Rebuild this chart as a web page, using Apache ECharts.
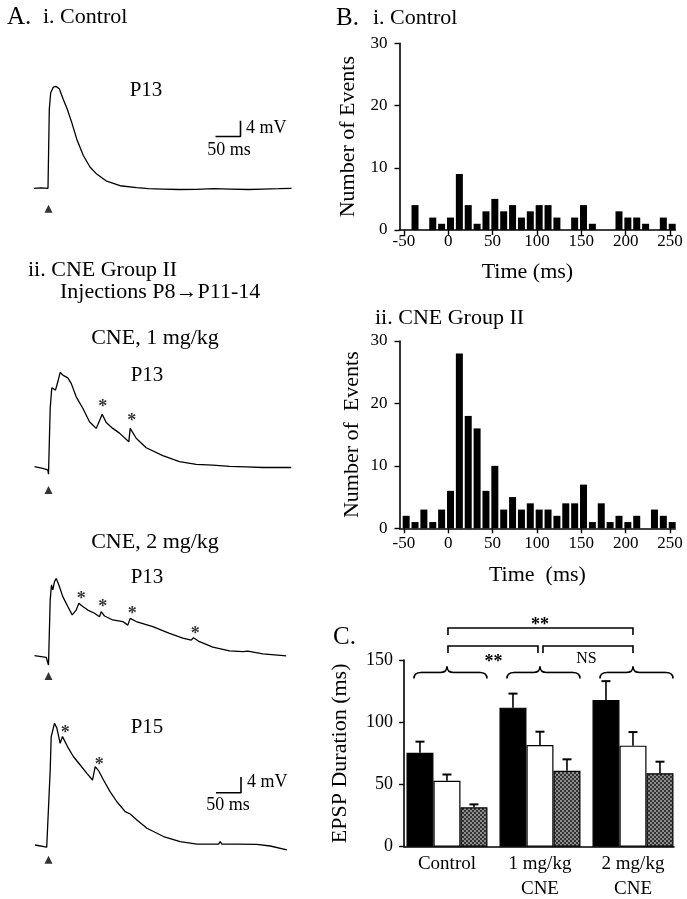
<!DOCTYPE html>
<html><head><meta charset="utf-8">
<script src="https://cdn.jsdelivr.net/npm/echarts@6/dist/echarts.min.js"></script>
<style>html,body{margin:0;padding:0;background:#fff}#c{width:687px;height:899px}</style>
</head><body><div id="c"></div>
<script>
// ---------- DATA ----------
// Panel A traces: [time (ms) from stimulus, potential (mV) above baseline]
const traceControlP13 = [[-29,0],[-15,0.1],[-1,0],[1.6,20],[4.4,24.2],[9.6,25.6],[15,25.8],[21.6,25.2],[29.6,22.5],[37.6,20],[46.4,16.7],[56.4,12.5],[69.6,8.3],[83,5.4],[96.4,3.6],[116.4,1.8],[143,0.65],[176.4,0.15],[200,-0.1],[229.6,-0.2],[260,-0.3],[296,-0.25],[330,-0.1],[363,-0.2],[400,-0.3],[429.6,-0.2],[460,-0.1],[486,0]];
const trace1mgP13 = [[-28,0.4],[-11.4,0],[-1.4,-0.4],[0,-1.5],[3.4,15.2],[6.6,20.4],[9.9,20.7],[14,19.8],[18.6,21.9],[23.4,24.3],[28.6,23.6],[38.6,22.9],[45.4,21.5],[55.4,18.1],[68.6,15.2],[82,11.8],[95.4,10.1],[98.6,11],[107.4,13.7],[115.4,11.6],[128.6,10.1],[142,8.9],[160.6,6.7],[163.4,10.1],[175.4,7.6],[195.4,5.2],[228.6,3.2],[262,1.7],[295.4,1.0],[328.6,0.8],[362,0.5],[395.4,0.35],[428.6,0.2],[485.4,0.2]];
const trace2mgP13 = [[-28,0.25],[-4.6,-0.15],[0,-2.1],[3.4,14.4],[6,18.2],[8.6,16.9],[12,19],[15.4,19.8],[20.6,18.2],[28.6,15.2],[38.6,12.7],[47.4,10.6],[55.4,11.8],[60.6,13.5],[68.6,12.7],[78.6,11.8],[92,11],[102,10.1],[105.4,11.4],[112,10.3],[128.6,9.3],[148.6,8.9],[158.6,8],[163.4,9.7],[175.4,8.9],[208.6,7.6],[242,5.9],[268.6,4.7],[285.4,4.2],[290,4.8],[302,3.8],[328.6,2.4],[362,1.5],[388.6,1.3],[398.6,1.4],[428.6,0.7],[475.4,0.2]];
const trace2mgP15 = [[-27,0.25],[-3.6,-0.3],[0,-0.8],[3.4,19.2],[5.4,27.7],[8.8,29.4],[12,31.1],[16.8,29.8],[23.4,26],[28,27.7],[31.4,28.1],[40,24.7],[50,22.6],[63.4,20.5],[76.8,18.4],[88,16.7],[93.4,20.1],[100,19.1],[110,16.7],[123.4,13.7],[136.8,11.2],[153.4,8.7],[163.4,8.1],[176.8,6.6],[196.8,4.5],[230,2.4],[263.4,1.1],[296.8,0.5],[340,0.5],[343.4,1.1],[346.8,0.5],[376.8,0.5],[416.8,0.4],[443.4,0],[476.8,-1]];
// asterisks (EPSP peaks) per trace
const stars1mgP13 = [[108.6,15.4],[166.6,12.0]];
const stars2mgP13 = [[65.4,14.4],[108.6,12.4],[167.4,10.8],[293.4,5.7]];
const stars2mgP15 = [[33.4,28.6],[101.4,20.5]];
const stimMarks = [-5.2,-5.5,-4.9,-3.5];
const scaleMs = 50, scaleMv = 4;

// Panel B histograms
const binCenters = [-47.5,-37.5,-27.5,-17.5,-7.5,2.5,12.5,22.5,32.5,42.5,52.5,62.5,72.5,82.5,92.5,102.5,112.5,122.5,132.5,142.5,152.5,162.5,172.5,182.5,192.5,202.5,212.5,222.5,232.5,242.5,252.5];
const countsControl = [0,4,0,2,1,2,9,4,1,3,5,3,4,2,3,4,4,2,0,2,4,1,0,0,3,2,2,1,0,2,1];
const countsCNE = [2,1,3,1,3,6,28,18,16,6,10,3,5,3,4,3,3,2,4,4,7,1,4,1,2,1,2,0,3,2,1];
const timeTicks = [-50,0,50,100,150,200,250];

// Panel C EPSP durations
const groups = ['Control','1 mg/kg\nCNE','2 mg/kg\nCNE'];
const durBlack = [75.5,111.7,117.9], semBlack = [8.9,11.3,15.1];
const durWhite = [53,81.7,81.2],     semWhite = [5,10.7,10.9];
const durGray  = [31.6,61,59],       semGray  = [2.4,9.2,9.3];
const comparisons = [[0,2,'**'],[0,1,'**'],[1,2,'NS']];

// ---------- CHART ----------
const FONT = 'Liberation Serif';
const chart = echarts.init(document.getElementById('c'), null, {renderer:'canvas'});

const pc = document.createElement('canvas'); pc.width = 4; pc.height = 4;
const pctx = pc.getContext('2d');
pctx.fillStyle = '#333'; pctx.fillRect(0,0,4,4);
pctx.fillStyle = '#8c8c8c'; pctx.fillRect(0,0,2,2); pctx.fillRect(2,2,2,2);
const grayPattern = {image: pc, repeat: 'repeat'};

const traces = [traceControlP13, trace1mgP13, trace2mgP13, trace2mgP15];
const traceStars = [[], stars1mgP13, stars2mgP13, stars2mgP15];
const traceTops = [61.9, 341.9, 530.3, 719.6];

const grids = [], xAxes = [], yAxes = [], series = [];
traceTops.forEach((top, i) => {
  grids.push({left:33.5, top:top, width:260, height:154.05, outerBoundsMode:'none'});
  xAxes.push({type:'value', gridIndex:i, min:-30, max:490, show:false});
  yAxes.push({type:'value', gridIndex:i, min:-7, max:32, show:false});
  series.push({type:'line', xAxisIndex:i, yAxisIndex:i, data:traces[i], showSymbol:false, symbol:'none',
    lineStyle:{color:'#000', width:1.3}, silent:true, z:3});
  series.push({type:'scatter', xAxisIndex:i, yAxisIndex:i, data:[[0, stimMarks[i]]], symbol:'triangle',
    symbolSize:[8,8], itemStyle:{color:'#000'}, silent:true});
  if (traceStars[i].length) series.push({type:'scatter', xAxisIndex:i, yAxisIndex:i, data:traceStars[i],
    symbolSize:0, label:{show:true, position:'inside', formatter:'*', fontFamily:FONT, fontSize:18, fontWeight:'bold',
      color:'#000', textBorderWidth:0}, silent:true});
});
// scale bars (grid 0 and grid 3)
[[0, 334, 13.1],[3, 335, 13.5]].forEach(([gi, t0, v0]) => {
  series.push({type:'line', xAxisIndex:gi, yAxisIndex:gi, data:[[t0, v0],[t0+scaleMs, v0],[t0+scaleMs, v0+scaleMv]],
    showSymbol:false, symbol:'none', lineStyle:{color:'#000', width:1.6}, silent:true});
});

// Histograms
const axisCommon = {axisLine:{show:true, onZero:false, lineStyle:{color:'#000', width:1.6}},
  axisTick:{show:true, length:5, lineStyle:{color:'#000', width:1.4}}, splitLine:{show:false}};
function histAxes(gi, top, height, labelMargin, nameGapX, yName, yNameGap, xName, xPad) {
  grids.push({left:399.5, top:top, width:275.8, height:height, outerBoundsMode:'none'});
  xAxes.push(Object.assign({}, axisCommon, {type:'value', gridIndex:gi, min:-55, max:256,
    axisTick:Object.assign({}, axisCommon.axisTick, {customValues:timeTicks}),
    axisLabel:{customValues:timeTicks, margin:labelMargin, fontFamily:FONT, fontSize:17, color:'#000'},
    name:xName, nameLocation:'middle', nameGap:nameGapX,
    nameTextStyle:{fontFamily:FONT, fontSize:22, color:'#000', verticalAlign:'top', padding:xPad}}));
  yAxes.push(Object.assign({}, axisCommon, {type:'value', gridIndex:gi, min:0, max:30, interval:10,
    axisLabel:{margin:12, fontFamily:FONT, fontSize:17, color:'#000'},
    name:yName, nameLocation:'middle', nameRotate:90, nameGap:yNameGap,
    nameTextStyle:{fontFamily:FONT, fontSize:22, color:'#000'}}));
}
histAxes(4, 43.3, 186.7, 3, 31, 'Number of Events', 40, 'Time (ms)', [0,20,0,0]);
histAxes(5, 341, 187.3, 7, 36, 'Number of  Events', 36, 'Time  (ms)', [0,0,0,0]);
[[4, countsControl],[5, countsCNE]].forEach(([gi, counts]) => {
  series.push({type:'bar', xAxisIndex:gi, yAxisIndex:gi, data:binCenters.map((c,k)=>[c, counts[k]]),
    barWidth:7, itemStyle:{color:'#000'}, silent:true});
});

// Panel C
grids.push({left:404, top:660, width:270, height:186.7, outerBoundsMode:'none'});
xAxes.push({type:'value', gridIndex:6, min:-0.462, max:2.441,
  axisLine:{show:true, onZero:false, lineStyle:{color:'#000', width:1.6}}, axisTick:{show:false}, splitLine:{show:false},
  axisLabel:{customValues:[0,1,2], formatter:(v)=>groups[Math.round(v)], margin:5, fontFamily:FONT, fontSize:19,
    lineHeight:25, color:'#000'}});
yAxes.push(Object.assign({}, axisCommon, {type:'value', gridIndex:6, min:0, max:150, interval:50,
  axisLabel:{margin:11, fontFamily:FONT, fontSize:18, color:'#000'},
  name:'EPSP Duration (ms)', nameLocation:'middle', nameRotate:90, nameGap:53,
  nameTextStyle:{fontFamily:FONT, fontSize:22, color:'#000'}}));
const BW = 27;
[[durBlack,'#000'],[durWhite,'#fff'],[durGray,grayPattern]].forEach(([d, col]) => {
  series.push({type:'bar', xAxisIndex:6, yAxisIndex:6, data:d.map((v,g)=>[g,v]), barWidth:BW, barGap:'0%',
    itemStyle:{color:col, borderColor:'#000', borderWidth:1.2}, silent:true});
});
const errData = [];
[[durBlack,semBlack],[durWhite,semWhite],[durGray,semGray]].forEach(([d,s],si) => {
  d.forEach((v,g) => errData.push([g, v, v + s[g], si]));
});
series.push({type:'custom', xAxisIndex:6, yAxisIndex:6, data:errData, z:5, silent:true,
  renderItem:(params, api) => {
    const p = api.coord([api.value(0), api.value(1)]);
    const q = api.coord([api.value(0), api.value(2)]);
    const x = p[0] + (api.value(3) - 1) * BW;
    return {type:'group', children:[
      {type:'line', shape:{x1:x, y1:p[1], x2:x, y2:q[1]}, style:{stroke:'#000', lineWidth:1.6}},
      {type:'line', shape:{x1:x-4.5, y1:q[1], x2:x+4.5, y2:q[1]}, style:{stroke:'#000', lineWidth:2}}
    ]};
  }});
// braces above each group
series.push({type:'custom', xAxisIndex:6, yAxisIndex:6, data:[[0,140],[1,140],[2,140]], silent:true,
  renderItem:(params, api) => {
    const c = api.coord([api.value(0), api.value(1)]);
    const cx = c[0], y = c[1], xl = cx - 33, xr = cx + 40, r = 7, h = 6;
    const st = {stroke:'#000', lineWidth:1.6, fill:null};
    return {type:'group', children:[
      {type:'bezierCurve', shape:{x1:xl, y1:y+h, x2:xl+r, y2:y, cpx1:xl, cpy1:y}, style:st},
      {type:'line', shape:{x1:xl+r, y1:y, x2:cx-r, y2:y}, style:st},
      {type:'bezierCurve', shape:{x1:cx-r, y1:y, x2:cx, y2:y-h, cpx1:cx, cpy1:y}, style:st},
      {type:'bezierCurve', shape:{x1:cx, y1:y-h, x2:cx+r, y2:y, cpx1:cx, cpy1:y}, style:st},
      {type:'line', shape:{x1:cx+r, y1:y, x2:xr-r, y2:y}, style:st},
      {type:'bezierCurve', shape:{x1:xr-r, y1:y, x2:xr, y2:y+h, cpx1:xr, cpy1:y}, style:st}
    ]};
  }});
// significance brackets
const bracketLevels = [175.7, 161.2, 161.2];
series.push({type:'custom', xAxisIndex:6, yAxisIndex:6, data:comparisons.map((c,i)=>[c[0], bracketLevels[i]]), silent:true,
  renderItem:(params, api) => {
    const i = params.dataIndex, cmp = comparisons[i];
    const a = api.coord([cmp[0], bracketLevels[i]]), b = api.coord([cmp[1], bracketLevels[i]]);
    let x0 = a[0] + 1, x1 = b[0];
    if (i === 1) x1 -= 2;
    if (i === 2) x0 += 2;
    const y = a[1], leg = 7;
    const st = {stroke:'#000', lineWidth:1.6, fill:null};
    const isStar = cmp[2] === '**';
    const ty = i === 0 ? y - 6 + 3 : y + 13 + (isStar ? 3 : 0);
    return {type:'group', children:[
      {type:'polyline', shape:{points:[[x0, y+leg],[x0, y],[x1, y],[x1, y+leg]]}, style:st},
      {type:'text', style:{text:cmp[2], x:(a[0]+b[0])/2, y:ty, align:'center', verticalAlign:'middle',
        font: (isStar ? 'bold 18px "' : '16px "') + FONT + '"', fill:'#000'}}
    ]};
  }});

function txt(text, x, y, size, align) {
  return {type:'text', x:x, y:y, silent:true, style:{text:text, font:size + 'px "' + FONT + '"', fill:'#000',
    align:align || 'left', verticalAlign:'middle', textAlign:align || 'left', textVerticalAlign:'middle'}};
}
const graphic = [
  txt('A.', 7, 17, 25), txt('i. Control', 43, 17, 22),
  txt('P13', 146, 90, 21, 'center'),
  txt('4 mV', 246, 128, 18), txt('50 ms', 229, 150, 18, 'center'),
  txt('ii. CNE Group II', 28, 270, 22), txt('Injections P8\u2192P11-14', 60, 292, 22),
  txt('CNE, 1 mg/kg', 155, 338, 22, 'center'), txt('P13', 147, 375, 21, 'center'),
  txt('CNE, 2 mg/kg', 155, 542, 22, 'center'), txt('P13', 147, 577, 21, 'center'),
  txt('P15', 147, 727, 21, 'center'),
  txt('4 mV', 247, 782, 18), txt('50 ms', 228, 805, 18, 'center'),
  txt('B.', 336, 18, 25), txt('i. Control', 373, 18, 22),
  txt('ii. CNE Group II', 375, 318, 22),
  txt('C.', 333, 637, 25)
];

chart.setOption({
  animation:false, backgroundColor:'#fff',
  textStyle:{fontFamily:FONT},
  grid:grids, xAxis:xAxes, yAxis:yAxes, series:series, graphic:graphic
});
</script></body></html>
